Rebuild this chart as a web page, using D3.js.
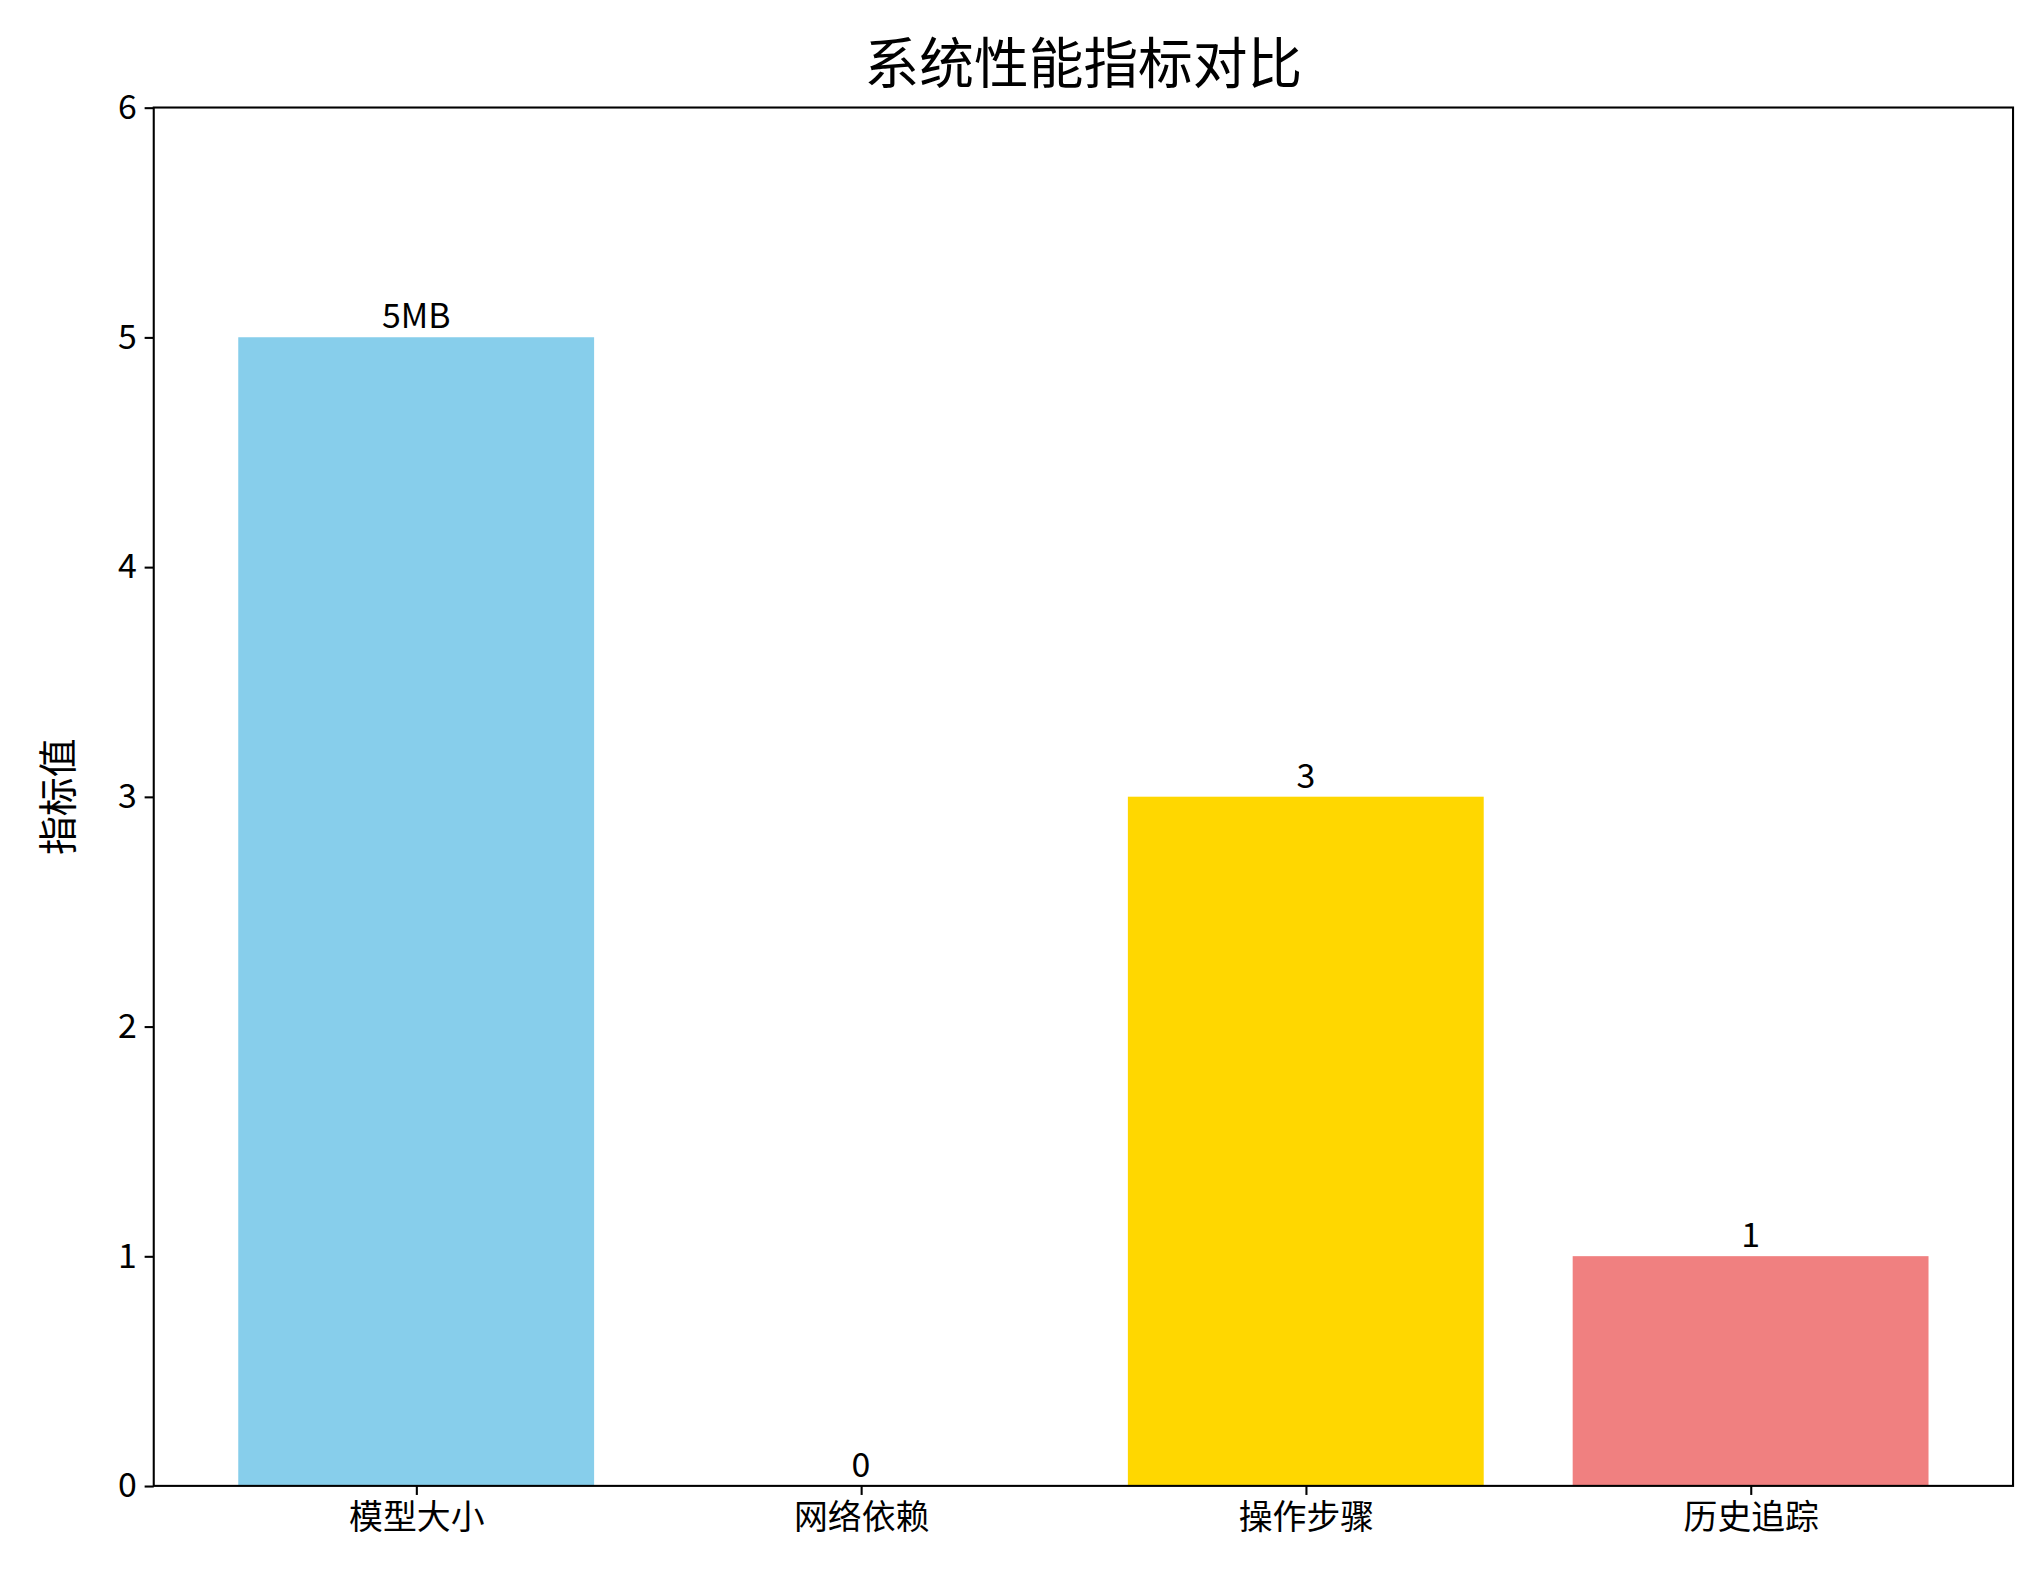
<!DOCTYPE html>
<html><head><meta charset="utf-8">
<script src="https://cdn.jsdelivr.net/npm/d3@7"></script>
<style>body{margin:0;background:#fff}text{font-family:"Noto Sans CJK SC","Noto Sans",sans-serif}</style>
</head><body>
<script>
var categories = ["模型大小", "网络依赖", "操作步骤", "历史追踪"];
var values = [5, 0, 3, 1];
var valueLabels = ["5MB", "0", "3", "1"];
var colors = ["#87CEEB", "#90EE90", "#FFD700", "#F08080"];
var yTicks = [0, 1, 2, 3, 4, 5, 6];

var W = 1568, H = 1232;
var svg = d3.select("body").append("svg")
    .attr("width", 2043).attr("height", 1596)
    .attr("viewBox", "0 0 " + W + " " + H)
    .attr("preserveAspectRatio", "none");

var pL = 118, pR = 1545, pT = 83, pB = 1147;
var x = d3.scaleLinear().domain([-0.59, 3.59]).range([pL, pR]);
var y = d3.scaleLinear().domain([0, 6]).range([pB, pT]);
var bw = 0.8;

svg.selectAll("rect.bar").data(values).enter().append("rect")
    .attr("x", function(d, i){ return x(i - bw / 2) })
    .attr("width", function(d, i){ return x(i + bw / 2) - x(i - bw / 2) })
    .attr("y", function(d){ return y(d) })
    .attr("height", function(d){ return y(0) - y(d) })
    .attr("fill", function(d, i){ return colors[i] });

svg.selectAll("text.val").data(values).enter().append("text")
    .attr("x", function(d, i){ return x(i) })
    .attr("y", function(d){ return y(d) - 7 })
    .attr("text-anchor", "middle").attr("font-size", 26)
    .text(function(d, i){ return valueLabels[i] });

var ya = svg.append("g").attr("transform", "translate(" + pL + ",0)")
    .call(d3.axisLeft(y).tickValues(yTicks).tickSize(7).tickPadding(6).tickFormat(d3.format("d")));
var xa = svg.append("g").attr("transform", "translate(0," + pB + ")")
    .call(d3.axisBottom(x).tickValues([0, 1, 2, 3]).tickSize(7).tickPadding(8)
        .tickFormat(function(d){ return categories[d] }));
[ya, xa].forEach(function(a){
    a.select(".domain").remove();
    a.selectAll("text").attr("font-size", 26).attr("fill", "#000")
      .style("font-family", '"Noto Sans CJK SC",sans-serif');
    a.selectAll("line").attr("stroke", "#000").attr("stroke-width", 1.6);
});
svg.append("rect").attr("x", pL).attr("y", pT)
    .attr("width", pR - pL).attr("height", pB - pT)
    .attr("fill", "none").attr("stroke", "#000").attr("stroke-width", 1.6);

svg.append("text").attr("x", (pL + pR) / 2).attr("y", 64)
    .attr("text-anchor", "middle").attr("font-size", 42).text("系统性能指标对比");
svg.append("text").attr("transform", "translate(55," + (pT + pB) / 2 + ") rotate(-90)")
    .attr("text-anchor", "middle").attr("font-size", 30).text("指标值");
</script>
</body></html>
